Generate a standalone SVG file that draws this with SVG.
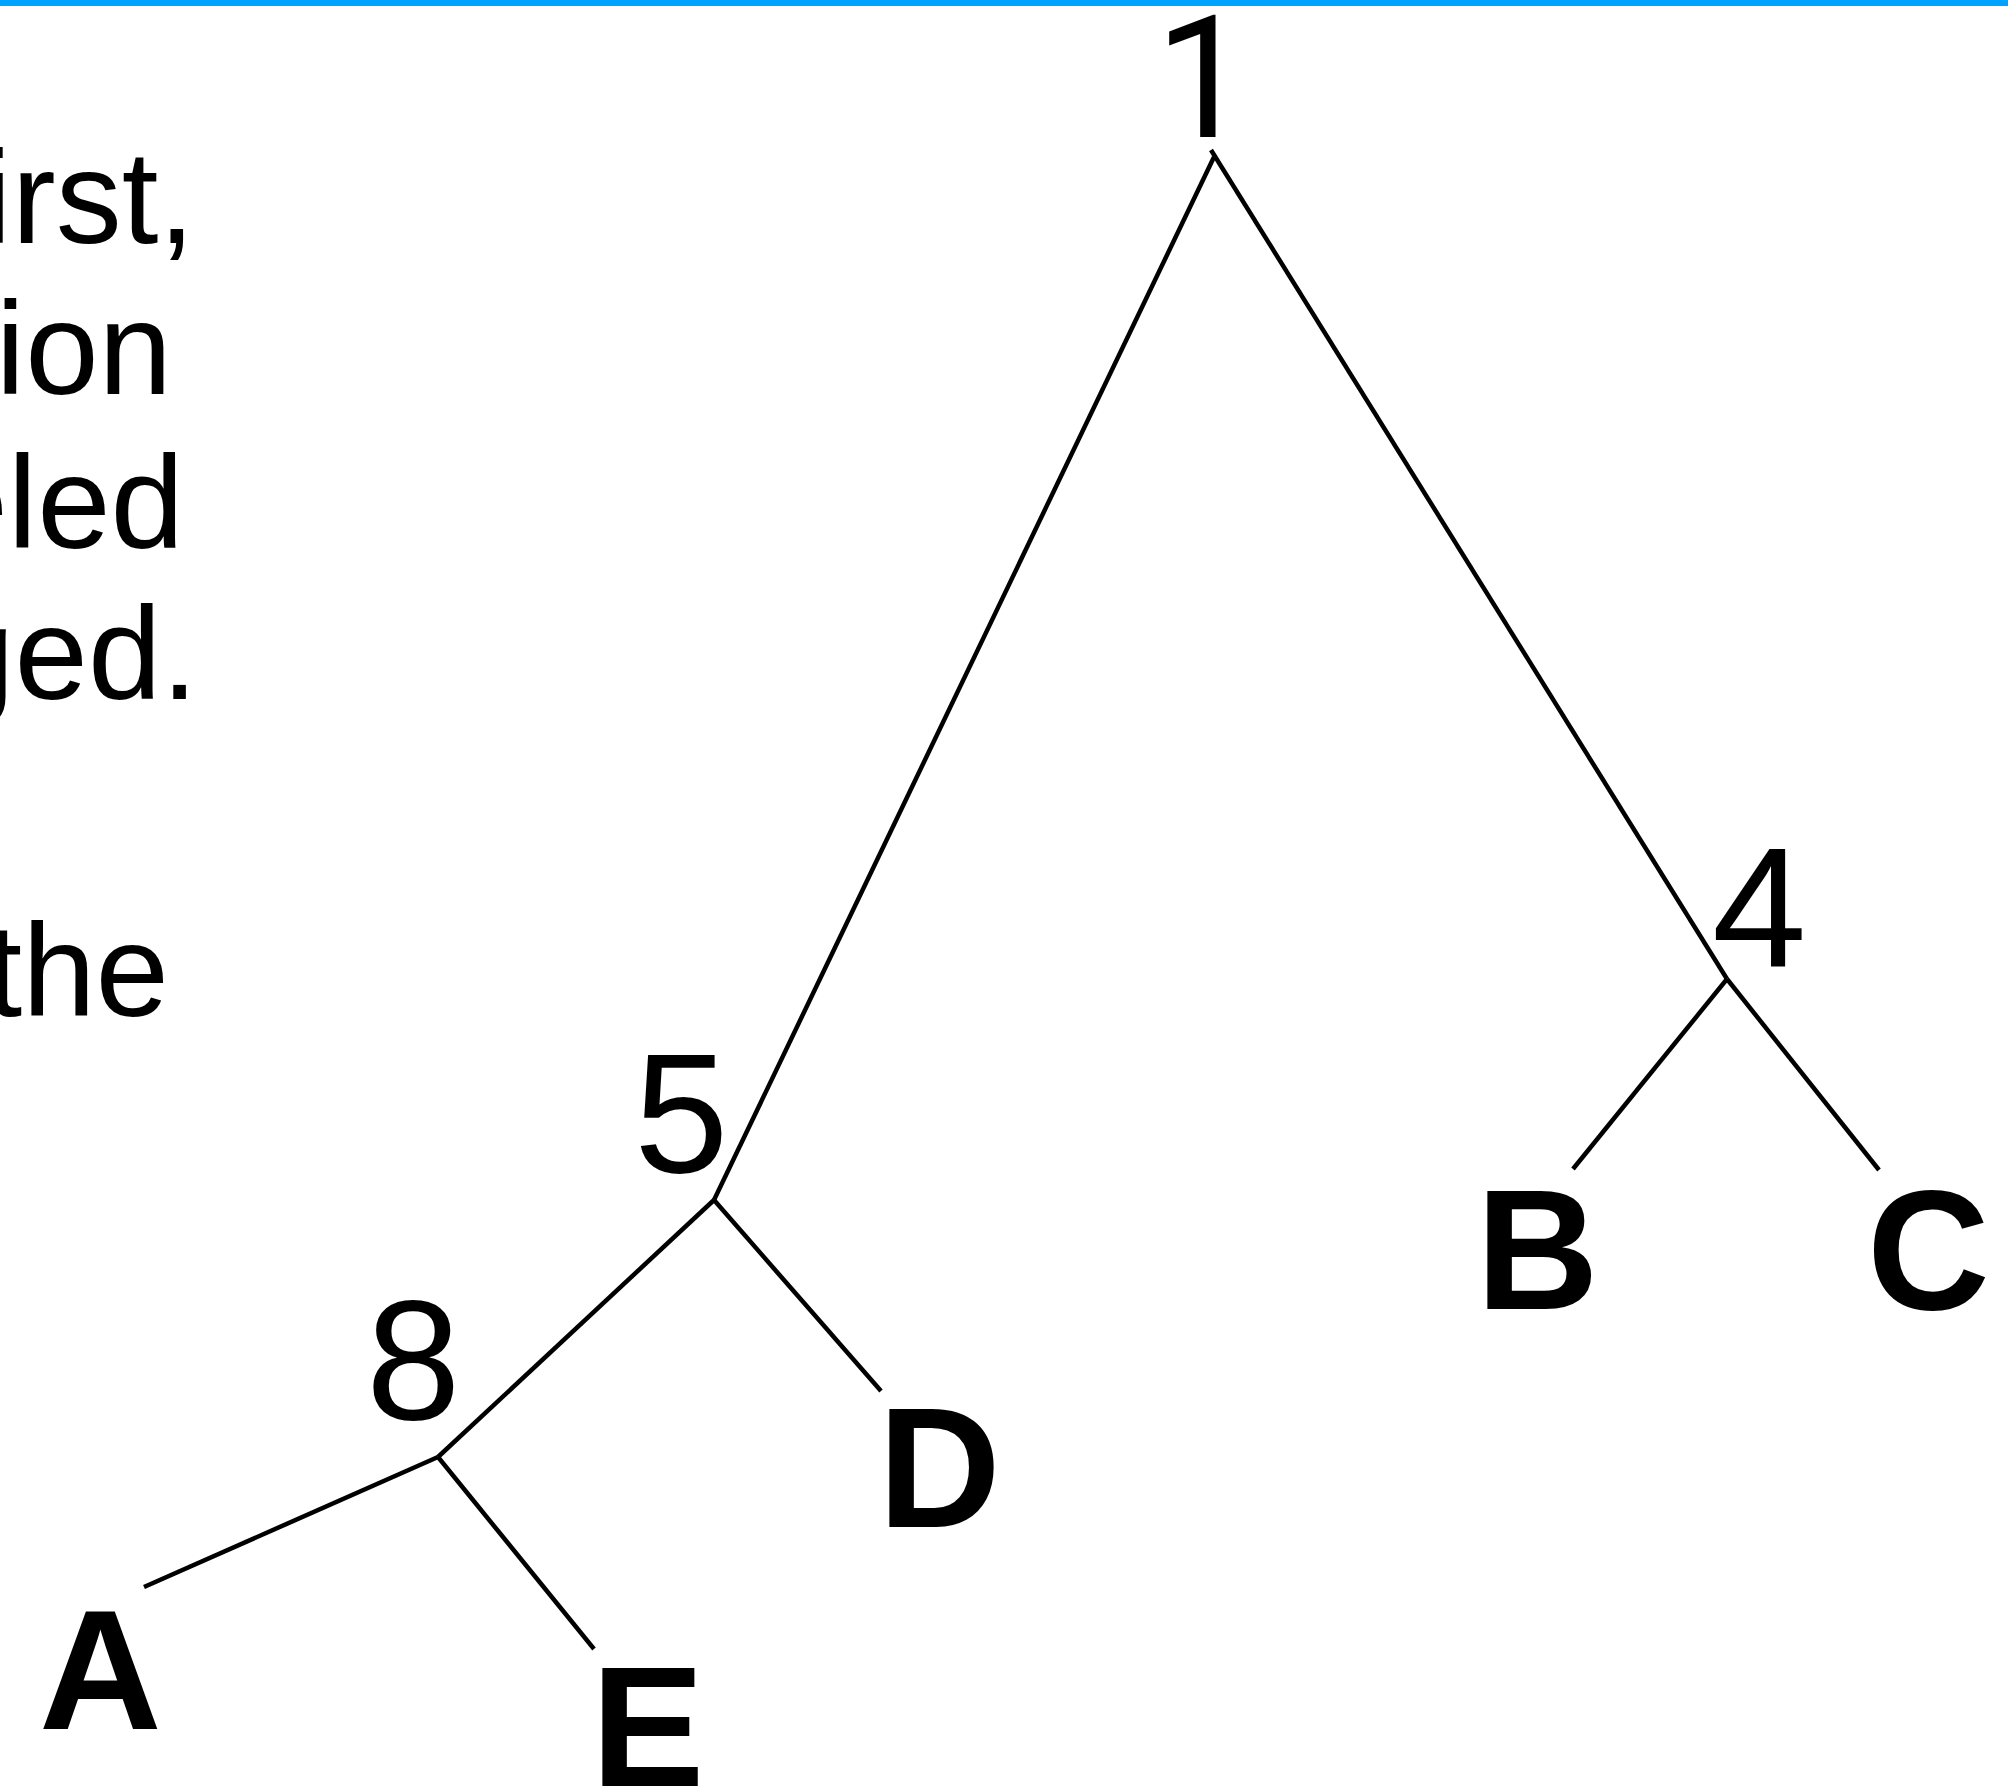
<svg xmlns="http://www.w3.org/2000/svg" width="2008" height="1789" viewBox="0 0 2008 1789">
  <style>
    .bg { fill: #ffffff; }
    .bar { fill: #00a2ff; }
    .para { font-family: "Liberation Sans", Arial, sans-serif; font-size: 132px; fill: #000000; text-anchor: end; }
    .num { font-family: "Liberation Sans", Arial, sans-serif; font-size: 170px; fill: #000000; }
    .num1 { font-family: Roboto, "Liberation Sans", sans-serif; font-size: 170px; fill: #000000; }
    .leaf { font-family: "Liberation Sans", Arial, sans-serif; font-size: 170px; font-weight: bold; fill: #000000; }
    .edge { stroke: #000000; stroke-width: 4.5; fill: none; stroke-linecap: butt; }
  </style>
  <rect class="bg" x="0" y="0" width="2008" height="1789"/>
  <rect class="bar" x="0" y="0" width="2008" height="6"/>

  <g id="paragraph">
    <text class="para" x="195" y="243">irst,</text>
    <text class="para" x="172" y="394">ion</text>
    <text class="para" x="184" y="548">eled</text>
    <text class="para" x="198" y="699">ged.</text>
    <text class="para" x="169" y="1016">the</text>
  </g>

  <g id="connectors">
    <line class="edge" x1="1214" y1="157" x2="714" y2="1200"/>
    <line class="edge" x1="1211" y1="150" x2="1727" y2="979"/>
    <line class="edge" x1="1727" y1="979" x2="1573" y2="1169"/>
    <line class="edge" x1="1727" y1="979" x2="1879" y2="1170"/>
    <line class="edge" x1="714" y1="1200" x2="438" y2="1457"/>
    <line class="edge" x1="714" y1="1200" x2="881" y2="1391"/>
    <line class="edge" x1="438" y1="1457" x2="144" y2="1587"/>
    <line class="edge" x1="438" y1="1457" x2="594" y2="1649"/>
  </g>

  <g id="node-1"><text class="num1" x="1155" y="137">1</text></g>
  <g id="node-4"><text class="num" x="1712" y="967">4</text></g>
  <g id="node-5"><text class="num" x="634" y="1172">5</text></g>
  <g id="node-8"><text class="num" x="366" y="1419">8</text></g>
  <g id="leaf-A"><text class="leaf" x="39" y="1729">A</text></g>
  <g id="leaf-B"><text class="leaf" x="1476" y="1309">B</text></g>
  <g id="leaf-C"><text class="leaf" x="1867" y="1309">C</text></g>
  <g id="leaf-D"><text class="leaf" x="878" y="1527">D</text></g>
  <g id="leaf-E"><text class="leaf" x="591" y="1786">E</text></g>
</svg>
